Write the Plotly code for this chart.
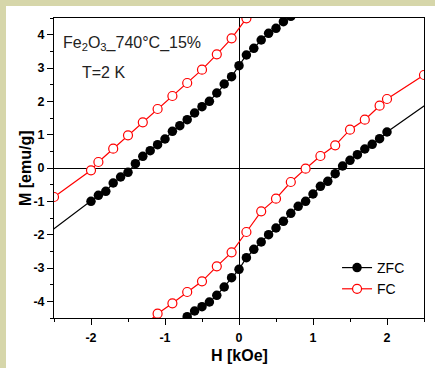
import plotly.graph_objects as go

# ZFC upper (descending) branch
H_zfc_up = [-3.0, -2.0, -1.9, -1.8, -1.7, -1.6, -1.5, -1.4, -1.3, -1.2, -1.1, -1.0, -0.9, -0.8,
            -0.7, -0.6, -0.5, -0.4, -0.3, -0.2, -0.1, 0.0, 0.1, 0.2, 0.3, 0.4, 0.5, 0.6, 0.7, 0.8]
M_zfc_up = [-2.66, -1.00, -0.82, -0.70, -0.45, -0.27, -0.13, 0.13, 0.35, 0.52, 0.70, 0.87, 1.10, 1.27,
            1.45, 1.65, 1.84, 2.00, 2.25, 2.52, 2.74, 3.07, 3.39, 3.59, 3.84, 4.04, 4.19, 4.39, 4.55, 4.75]
# ZFC lower (ascending) branch
H_zfc_lo = [-0.8, -0.7, -0.6, -0.5, -0.4, -0.3, -0.2, -0.1, 0.0, 0.1, 0.2, 0.3, 0.4, 0.5, 0.6,
            0.7, 0.8, 0.9, 1.0, 1.1, 1.2, 1.3, 1.4, 1.5, 1.6, 1.7, 1.8, 1.9, 2.0, 3.0]
M_zfc_lo = [-4.65, -4.46, -4.29, -4.16, -4.02, -3.82, -3.57, -3.29, -3.04, -2.69, -2.44, -2.22, -2.00, -1.80, -1.60,
            -1.36, -1.15, -1.00, -0.78, -0.55, -0.40, -0.17, 0.06, 0.23, 0.40, 0.57, 0.71, 0.88, 1.08, 2.64]
# FC upper branch
H_fc_up = [-2.5, -2.0, -1.9, -1.7, -1.5, -1.3, -1.1, -0.9, -0.7, -0.5, -0.3, -0.1, 0.1, 0.3]
M_fc_up = [-0.87, -0.07, 0.18, 0.58, 0.98, 1.37, 1.77, 2.16, 2.55, 2.95, 3.41, 3.89, 4.49, 5.05]
# FC lower branch
H_fc_lo = [-1.3, -1.1, -0.9, -0.7, -0.5, -0.3, -0.1, 0.1, 0.3, 0.5, 0.7, 0.9, 1.1, 1.3, 1.5, 1.7, 1.9, 2.0, 2.5]
M_fc_lo = [-4.77, -4.37, -4.06, -3.72, -3.40, -2.95, -2.53, -1.92, -1.30, -0.92, -0.42, -0.02, 0.36, 0.68,
           1.15, 1.45, 1.87, 2.07, 2.79]

x_ticks = [-2, -1, 0, 1, 2]
x_ticklabels = ["-2", "-1", "0", "1", "2"]
y_ticks = [-4, -3, -2, -1, 0, 1, 2, 3, 4]
y_ticklabels = ["-4", "-3", "-2", "-1", "0", "1", "2", "3", "4"]

FONT = "Arial, Liberation Sans, sans-serif"
OLIVE = "rgb(214,214,170)"

fig = go.Figure()
fig.add_trace(go.Scatter(
    x=H_zfc_up + [None] + H_zfc_lo, y=M_zfc_up + [None] + M_zfc_lo,
    mode="lines+markers", name="ZFC",
    line=dict(color="black", width=1.2),
    marker=dict(symbol="circle", size=9.5, color="black", line=dict(width=0)),
    connectgaps=False))
fig.add_trace(go.Scatter(
    x=H_fc_up + [None] + H_fc_lo, y=M_fc_up + [None] + M_fc_lo,
    mode="lines+markers", name="FC",
    line=dict(color="red", width=1.2),
    marker=dict(symbol="circle", size=9, color="white", line=dict(color="red", width=1.2)),
    connectgaps=False))

L, R, T, B = 54, 11, 18, 50
W, Hh = 435, 368
pw = W - L - R
ph = Hh - T - B

fig.add_shape(type="rect", xref="paper", yref="paper",
              x0=(6 - L) / pw, x1=(W + 5 - L) / pw,
              y0=-(B + 5) / ph, y1=1 + (T - 6) / ph,
              fillcolor="white", line=dict(width=0), layer="below")

axis_common = dict(
    showline=True, linecolor="black", linewidth=1, mirror=True,
    ticks="outside", ticklen=6, tickwidth=1, tickcolor="black",
    showgrid=False, zeroline=True, zerolinecolor="black", zerolinewidth=1,
    tickfont=dict(family=FONT, size=12.5, color="black", weight="bold"),
    automargin=False,
)
fig.update_xaxes(range=[-2.5, 2.5], tickvals=x_ticks,
                 ticktext=["<b>%s</b>" % t for t in x_ticklabels],
                 ticklabelstandoff=2,
                 minor=dict(dtick=0.5, ticklen=3, tickcolor="black", ticks="outside"),
                 **axis_common)
fig.update_yaxes(range=[-4.5, 4.5], tickvals=y_ticks,
                 ticktext=["<b>%s</b>" % t for t in y_ticklabels],
                 minor=dict(dtick=0.5, ticklen=3, tickcolor="black", ticks="outside"),
                 **axis_common)

title_font = dict(family=FONT, size=16, color="black", weight="bold")
fig.add_annotation(x=0.5, y=(T + ph - 355) / ph, xref="paper", yref="paper",
                   xanchor="center", yanchor="middle", text="<b>H [kOe]</b>",
                   showarrow=False, font=title_font)
fig.add_annotation(x=(25 - L) / pw, y=0.5, xref="paper", yref="paper",
                   xanchor="center", yanchor="middle", text="<b>M [emu/g]</b>",
                   textangle=-90, showarrow=False, font=title_font)

fig.add_annotation(x=0.02, y=0.915, xref="paper", yref="paper", xanchor="left", yanchor="middle",
                   text="Fe<sub>2</sub>O<sub>3</sub>_740°C_15%", showarrow=False,
                   font=dict(family=FONT, size=16, color="#222"))
fig.add_annotation(x=0.07, y=0.82, xref="paper", yref="paper", xanchor="left", yanchor="middle",
                   text="T=2 K", showarrow=False,
                   font=dict(family=FONT, size=16, color="#222"))

fig.update_layout(
    width=W, height=Hh,
    margin=dict(l=L, r=R, t=T, b=B, pad=0, autoexpand=False),
    paper_bgcolor=OLIVE, plot_bgcolor="white",
    showlegend=True,
    legend=dict(x=0.765, y=0.22, xanchor="left", yanchor="top",
                bgcolor="rgba(0,0,0,0)", borderwidth=0,
                font=dict(family=FONT, size=14, color="black"),
                tracegroupgap=0, itemwidth=30),
)

fig.write_html("out.html", config={"displayModeBar": False},
               post_script="document.body.style.margin='0px';document.body.style.overflow='hidden';")
